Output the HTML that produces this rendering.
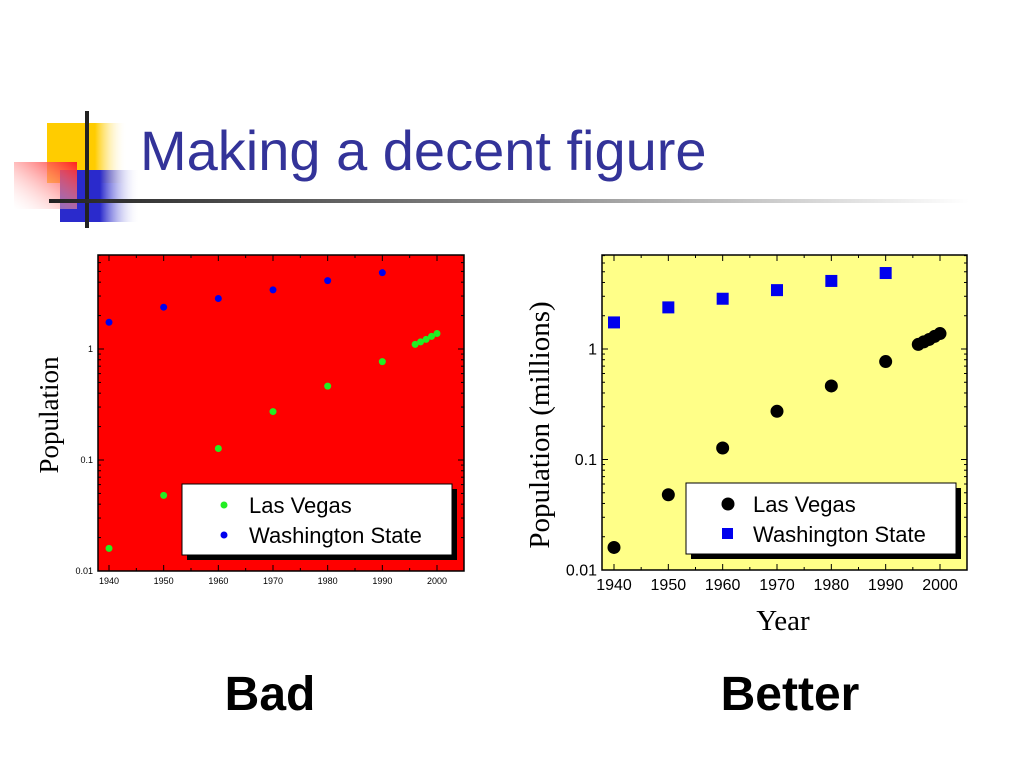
<!DOCTYPE html>
<html><head><meta charset="utf-8"><style>
body{margin:0;width:1024px;height:768px;background:#fff;overflow:hidden;font-family:"Liberation Sans",sans-serif}
</style></head><body>
<svg width="1024" height="768">
<defs>
<linearGradient id="gy" x1="0" x2="1"><stop offset="0" stop-color="#ffcc00"/><stop offset="0.6" stop-color="#ffcc00"/><stop offset="1" stop-color="#fff" stop-opacity="0"/></linearGradient>
<linearGradient id="gr" x1="1" y1="0" x2="0" y2="1"><stop offset="0" stop-color="#ff2020"/><stop offset="1" stop-color="#fff" stop-opacity="0.2"/></linearGradient>
<linearGradient id="gb" x1="0" x2="1"><stop offset="0" stop-color="#2a2acc"/><stop offset="0.5" stop-color="#2a2acc"/><stop offset="1" stop-color="#fff" stop-opacity="0"/></linearGradient>
<linearGradient id="gl" x1="0" x2="1"><stop offset="0" stop-color="#222"/><stop offset="0.5" stop-color="#888"/><stop offset="1" stop-color="#fff"/></linearGradient>
</defs>
<g>
<rect x="47" y="123" width="80" height="60" fill="url(#gy)"/>
<rect x="60" y="170" width="80" height="52" fill="url(#gb)"/>
<rect x="14" y="162" width="63" height="47" fill="url(#gr)"/>
<rect x="85" y="111" width="4" height="117" fill="#222"/>
<rect x="49" y="199" width="920" height="4" fill="url(#gl)"/>
</g>
<text x="140" y="170" font-size="56" fill="#333399">Making a decent figure</text>
<g id="left"></g>
<g id="right"></g>
<text x="270" y="710" font-size="48" font-weight="bold" text-anchor="middle">Bad</text>
<text x="790" y="710" font-size="48" font-weight="bold" text-anchor="middle">Better</text>
</svg>
<script>
const years=[1940,1950,1960,1970,1980,1990,1996,1997,1998,1999,2000];
const lasVegas=[0.016,0.048,0.127,0.273,0.463,0.77,1.1,1.16,1.22,1.3,1.38];
const waYears=[1940,1950,1960,1970,1980,1990];
const washington=[1.74,2.38,2.85,3.41,4.13,4.87];
const xTicks=[1940,1950,1960,1970,1980,1990,2000];
const yTicks=[0.01,0.1,1];
const yTickLabels=["0.01","0.1","1"];
const NS="http://www.w3.org/2000/svg";
function mk(p,t,a){const e=document.createElementNS(NS,t);for(const k in a)e.setAttribute(k,a[k]);p.appendChild(e);return e;}
function chart(g,o){
 const X=v=>o.x0+(v-1940)*(o.x1-o.x0)/60;
 const Y=v=>o.y1-(Math.log10(v)+2)*(o.y1-o.y0)/2;
 const r=mk(g,'rect',{x:o.L,y:o.T,width:o.R-o.L,height:o.B-o.T,fill:o.bg,stroke:'#000','stroke-width':1.5});
 
 for(let yr=1935;yr<=2005;yr+=5){const x=X(yr);if(x<o.L||x>o.R)continue;const l=yr%10==0?6:3;
  mk(g,'line',{x1:x,x2:x,y1:o.B,y2:o.B-l,stroke:'#000'});mk(g,'line',{x1:x,x2:x,y1:o.T,y2:o.T+l,stroke:'#000'});}
 for(let d=-2;d<=1;d++)for(let m=1;m<10;m++){const v=m*Math.pow(10,d);const y=Y(v);if(y<o.T||y>o.B)continue;const l=m==1?6:3;
  mk(g,'line',{x1:o.L,x2:o.L+l,y1:y,y2:y,stroke:'#000'});mk(g,'line',{x1:o.R,x2:o.R-l,y1:y,y2:y,stroke:'#000'});}
 xTicks.forEach(v=>{const t=mk(g,'text',{x:X(v),y:o.B+o.xf+4,'font-size':o.xf,'text-anchor':'middle'});t.textContent=v;
  });
 yTicks.forEach((v,i)=>{const t=mk(g,'text',{x:o.L-5,y:Y(v)+o.yf*0.35,'font-size':o.yf,'text-anchor':'end'});t.textContent=yTickLabels[i];
  });
 waYears.forEach((yr,i)=>{let e;
  if(o.sq)e=mk(g,'rect',{x:X(yr)-6,y:Y(washington[i])-6,width:12,height:12,fill:o.wa});
  else e=mk(g,'circle',{cx:X(yr),cy:Y(washington[i]),r:o.rad,fill:o.wa});
  });
 years.forEach((yr,i)=>{const e=mk(g,'circle',{cx:X(yr),cy:Y(lasVegas[i]),r:o.rad,fill:o.lv});
  });
 const lg=mk(g,'g',{});
 mk(lg,'rect',{x:o.lx+5,y:o.ly+5,width:270,height:71,fill:'#000'});
 mk(lg,'rect',{x:o.lx,y:o.ly,width:270,height:71,fill:'#fff',stroke:'#000'});
 mk(lg,'circle',{cx:o.lx+42,cy:o.ly+21,r:o.rad,fill:o.lv});
 if(o.sq)mk(lg,'rect',{x:o.lx+36,y:o.ly+45,width:11,height:11,fill:o.wa});else mk(lg,'circle',{cx:o.lx+42,cy:o.ly+51,r:o.rad,fill:o.wa});
 let t=mk(lg,'text',{x:o.lx+67,y:o.ly+29,'font-size':22});t.textContent='Las Vegas';
 t=mk(lg,'text',{x:o.lx+67,y:o.ly+59,'font-size':22});t.textContent='Washington State';
}
chart(document.getElementById('left'),{L:98,R:464,T:255,B:571,x0:109,x1:437,y0:349,y1:571,bg:'#ff0000',lv:'#22ee22',wa:'#0000ee',rad:3.5,sq:false,xf:9,yf:9,lx:182,ly:484});
chart(document.getElementById('right'),{L:602,R:967,T:255,B:570,x0:614,x1:940,y0:349,y1:570,bg:'#ffff88',lv:'#000',wa:'#0000ee',rad:6.5,sq:true,xf:16,yf:16,lx:686,ly:483});
</script>
<svg width="1024" height="768" style="position:absolute;left:0;top:0">
<text transform="translate(58,415) rotate(-90)" font-family="Liberation Serif" font-size="27" text-anchor="middle">Population</text>
<text transform="translate(549,425) rotate(-90)" font-family="Liberation Serif" font-size="29" text-anchor="middle">Population (millions)</text>
<text x="783" y="630" font-family="Liberation Serif" font-size="29" text-anchor="middle">Year</text>
</svg>
</body></html>
